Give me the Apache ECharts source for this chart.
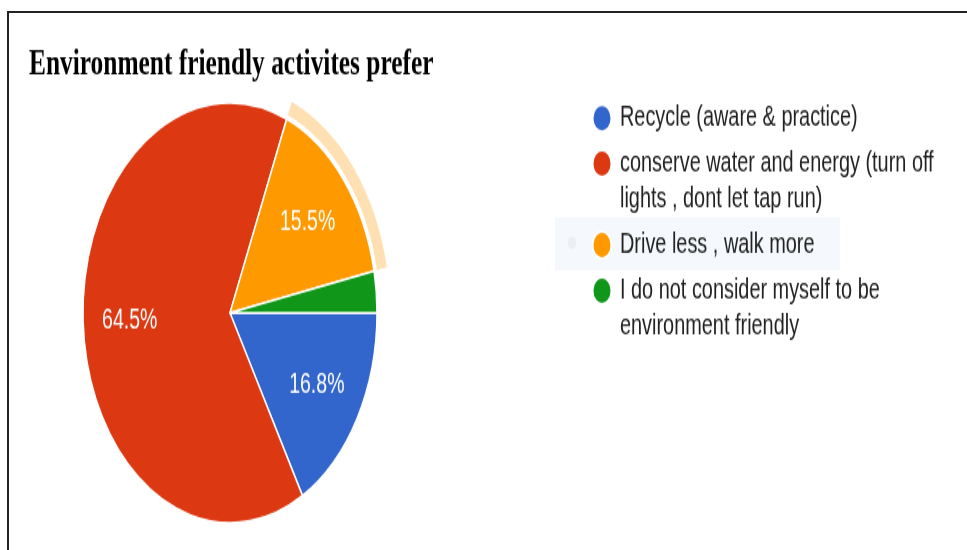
<!DOCTYPE html>
<html>
<head>
<meta charset="utf-8">
<script src="https://cdn.jsdelivr.net/npm/echarts@6/dist/echarts.min.js"></script>
<style>
  html, body { margin: 0; padding: 0; background: #fff; }
  #wrap { position: relative; width: 967px; height: 550px; overflow: hidden; background: #fff; }
  /* chart is laid out on a short canvas and stretched vertically */
  #chart { position: absolute; left: 0; top: 0; width: 967px; height: 385px;
           transform: scaleY(1.4286); transform-origin: 0 0; }
  #frame { position: absolute; left: 7px; top: 11px; width: 1000px; height: 1000px;
           border: 2px solid #222; pointer-events: none; }
</style>
</head>
<body>
<div id="wrap">
  <div id="chart"></div>
  <div id="frame"></div>
</div>
<script>
const chartTitle = 'Environment friendly activites prefer';
const categories = [
  'Recycle (aware & practice)',
  'conserve water and energy (turn off lights , dont let tap run)',
  'Drive less , walk more',
  'I do not consider myself to be environment friendly'
];
const shares = [16.8, 64.5, 15.5, 3.2];
const sliceColors = ['#3366cc', '#dc3912', '#ff9900', '#109618'];
const hoveredName = 'Drive less , walk more';

const FONT = '"Liberation Sans", Arial, sans-serif';
const CENTER = [230, 219];
const R = 147;
const LINE_H = 25.2;

const chart = echarts.init(document.getElementById('chart'), null, { renderer: 'canvas' });

// one legend block per entry; wrapped entries get an empty leading line so
// the dot lines up with the first line of text
const wrapped = [false, true, false, true];
const legendTops = [70.2, 76.6, 158.8, 165.6];
const legends = categories.map((name, i) => ({
  data: [name],
  orient: 'vertical',
  left: 591.5,
  top: legendTops[i],
  padding: 0,
  icon: 'circle',
  itemWidth: 26,
  itemHeight: 19,
  selectedMode: false,
  formatter: n => (wrapped[i] ? '\n' : '') + n,
  textStyle: {
    color: '#222',
    fontFamily: FONT,
    fontSize: 19.9,
    lineHeight: LINE_H,
    width: 324,
    overflow: 'break'
  }
}));

chart.setOption({
  animation: false,
  backgroundColor: '#fff',
  title: {
    text: chartTitle,
    left: 29,
    top: 33,
    padding: 0,
    textStyle: {
      fontFamily: '"Liberation Serif", "Times New Roman", serif',
      fontWeight: 'bold',
      fontSize: 25.4,
      color: '#000'
    }
  },
  legend: legends,
  graphic: [
    {
      type: 'rect', left: 555, top: 152, z: -1, silent: true,
      shape: { width: 285, height: 37 },
      style: { fill: '#f5f8fc' }
    },
    {
      type: 'circle', left: 568, top: 166, z: -1, silent: true,
      shape: { r: 4 },
      style: { fill: '#eceef2' }
    }
  ],
  series: [
    {
      type: 'pie',
      center: CENTER,
      radius: [0, R],
      startAngle: 0,
      clockwise: true,
      silent: true,
      itemStyle: { borderColor: '#fff', borderWidth: 1.5 },
      label: { show: false },
      labelLine: { show: false },
      emphasis: { disabled: true },
      data: categories.map((name, i) => ({
        name, value: shares[i], itemStyle: { color: sliceColors[i] }
      }))
    },
    {
      // hover ring around the highlighted slice
      type: 'pie',
      center: CENTER,
      radius: [R + 3, R + 13],
      startAngle: 0,
      clockwise: true,
      silent: true,
      label: { show: false },
      labelLine: { show: false },
      emphasis: { disabled: true },
      data: categories.map((name, i) => ({
        name, value: shares[i],
        itemStyle: { color: name === hoveredName ? '#ffe0b2' : 'rgba(0,0,0,0)' }
      }))
    },
    {
      // percentage labels, set further out than the slice midpoint
      type: 'pie',
      center: CENTER,
      radius: [48, R],
      startAngle: 0,
      clockwise: true,
      silent: true,
      itemStyle: { color: 'rgba(0,0,0,0)' },
      emphasis: { disabled: true },
      label: {
        position: 'inside',
        color: '#fff',
        fontFamily: FONT,
        fontSize: 19.5,
        formatter: p => p.value.toFixed(1) + '%'
      },
      labelLine: { show: false },
      data: categories.map((name, i) => ({
        name, value: shares[i],
        label: { show: shares[i] >= 5 }
      }))
    }
  ]
});
</script>
</body>
</html>
